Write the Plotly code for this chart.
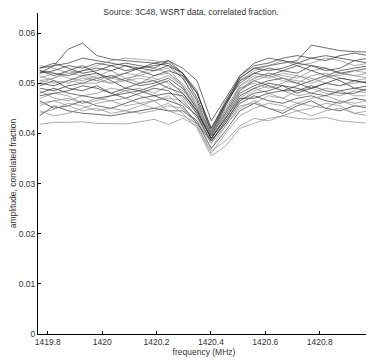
import numpy as np
import plotly.graph_objects as go

# frequency grid (MHz)
freq = list(np.linspace(1419.77, 1420.98, 24))

s1 = [52.0,53.5,56.8,58.0,55.5,54.8,54.5,54.2,54.0,54.5,52.0,48.0,41.0,46.5,51.0,53.0,53.5,54.0,54.5,57.6,57.0,56.5,56.3,56.2]
s2 = [41.8,42.2,42.2,42.3,42.0,42.0,41.9,42.3,42.8,41.8,43.0,41.5,36.5,38.5,41.5,43.0,42.5,43.5,43.0,42.8,43.2,42.5,42.2,42.0]
s3 = [53.0,53.5,54.0,55.0,54.5,54.0,53.5,53.0,53.5,54.0,52.0,47.0,40.5,46.0,51.5,53.5,54.0,55.0,55.5,55.0,54.5,55.5,56.0,55.5]
s4 = [50.5,51.0,52.0,51.5,50.5,50.0,51.0,51.5,52.5,53.0,49.5,44.5,39.0,45.0,49.5,51.0,52.0,51.5,51.0,52.5,53.0,52.0,51.5,52.0]
s5 = [49.0,48.5,49.5,50.0,51.0,51.5,50.5,49.5,50.0,51.0,49.0,45.0,39.5,44.0,48.5,50.5,49.5,48.5,49.5,50.5,51.5,50.5,49.0,49.5]
s6 = [47.0,48.0,47.5,46.0,46.5,47.5,48.5,49.0,48.0,49.5,47.0,43.0,38.5,42.0,47.0,49.0,48.0,47.0,48.5,49.0,48.0,47.5,48.5,48.0]
s7 = [43.5,45.5,44.5,44.0,43.8,43.5,44.0,44.5,45.0,44.5,44.5,42.5,37.0,40.5,44.5,46.0,45.0,44.0,45.5,46.5,45.0,44.5,45.5,45.0]
s8 = [53.5,53.0,52.0,52.5,53.5,54.5,55.0,54.8,54.5,54.0,51.5,45.0,40.0,45.5,50.5,52.5,53.5,54.5,53.5,54.0,55.0,54.5,53.5,54.0]
s9 = [52.5,51.5,52.5,53.5,52.0,51.0,52.0,53.0,52.5,53.5,52.0,48.5,40.0,46.0,50.0,52.0,51.5,52.5,53.5,52.5,51.5,52.5,53.0,53.5]
s10 = [51.0,52.0,51.0,50.5,51.5,52.5,51.0,50.0,51.5,52.0,49.5,43.5,39.5,44.5,49.0,50.5,51.5,50.5,50.0,51.5,52.0,51.0,50.5,51.0]
s11 = [50.0,49.5,50.5,51.5,52.0,50.5,49.0,48.5,49.5,50.5,48.0,44.5,39.0,43.5,48.0,49.5,50.5,51.0,50.0,49.0,50.0,51.0,50.5,50.0]
s12 = [48.5,47.0,46.5,47.5,48.0,49.0,48.5,47.5,46.5,47.0,46.5,43.5,38.0,42.5,46.5,48.5,49.5,48.5,47.5,48.0,49.0,48.5,47.5,47.5]
s13 = [46.5,45.0,45.5,46.5,45.5,45.0,46.0,47.0,47.5,46.5,45.5,42.0,38.5,42.0,46.0,47.5,46.5,46.0,47.0,47.5,46.5,46.0,47.0,46.5]
s14 = [44.0,44.8,46.0,45.5,44.5,45.0,44.5,44.0,44.5,45.5,45.0,41.5,36.0,40.0,43.5,45.0,46.0,45.5,44.5,45.0,46.0,45.5,44.0,44.5]
s15 = [52.0,52.5,53.5,53.0,54.0,53.5,52.5,53.0,54.0,53.5,51.0,46.5,39.5,45.5,51.0,53.0,52.5,53.0,54.0,53.5,52.5,53.0,54.5,54.0]
s16 = [51.5,50.5,50.0,51.0,50.5,51.5,52.0,51.5,51.0,50.0,48.5,45.5,40.5,44.0,48.5,51.0,52.0,51.0,50.5,50.0,51.0,52.0,51.5,51.0]
s17 = [49.5,50.5,49.0,48.5,49.5,48.0,49.0,50.0,50.5,49.0,48.0,44.5,39.0,43.0,47.5,49.0,50.0,49.5,48.0,49.0,50.0,49.5,50.5,50.0]
s18 = [45.5,46.5,47.0,46.0,47.0,46.5,45.5,46.0,46.5,47.5,45.0,42.5,38.0,41.5,45.5,46.0,47.5,47.0,46.0,47.0,47.5,46.5,46.0,46.5]
s19 = [53.0,54.0,53.0,52.0,52.5,53.5,54.0,53.5,53.0,54.5,53.0,50.5,42.5,47.0,51.5,54.0,55.0,54.5,54.0,55.0,55.5,55.0,54.5,55.0]
s20 = [50.0,51.0,52.5,52.0,51.0,50.0,50.5,52.0,53.0,52.0,50.0,46.0,40.0,44.5,49.0,50.0,49.0,50.0,51.5,51.0,50.0,49.5,50.0,50.5]
s21 = [47.5,48.0,48.5,49.5,49.0,48.0,47.0,48.0,49.0,48.5,46.0,43.5,38.5,42.5,46.5,48.0,48.5,49.5,49.0,48.0,47.5,48.5,49.0,48.5]
s22 = [44.5,43.5,44.0,45.0,46.0,46.5,47.0,46.0,45.0,46.0,44.0,41.0,35.5,37.5,41.0,42.0,43.0,43.5,44.5,43.5,44.5,45.0,44.0,43.5]
s23 = [52.5,52.0,51.5,52.5,53.0,52.5,53.5,52.5,51.5,52.5,51.5,48.0,41.0,46.0,50.5,52.0,53.0,52.5,52.0,53.5,53.0,52.0,52.5,53.0]
s24 = [50.5,50.0,50.5,50.0,50.0,51.0,50.5,51.0,50.5,51.5,49.5,45.5,39.5,44.0,49.5,51.5,51.0,52.0,51.5,50.5,51.5,51.5,52.5,52.0]
s25 = [48.0,49.0,48.0,47.5,47.0,47.5,48.0,48.5,47.5,48.0,47.5,44.0,39.0,43.0,47.0,47.0,48.0,48.5,48.5,49.5,48.5,48.0,48.0,49.0]
s26 = [46.0,46.5,45.5,44.5,45.0,44.0,44.5,45.5,46.5,44.5,43.5,42.0,37.0,41.5,45.0,46.5,45.0,44.5,46.0,45.5,45.0,46.5,45.5,45.5]

series = [s1, s2, s3, s4, s5, s6, s7, s8, s9, s10, s11, s12, s13,
          s14, s15, s16, s17, s18, s19, s20, s21, s22, s23, s24, s25, s26]

xtick_vals = [1419.8, 1420.0, 1420.2, 1420.4, 1420.6, 1420.8]
xtick_text = ["1419.8", "1420", "1420.2", "1420.4", "1420.6", "1420.8"]
ytick_vals = [0, 0.01, 0.02, 0.03, 0.04, 0.05, 0.06]
ytick_text = ["0", "0.01", "0.02", "0.03", "0.04", "0.05", "0.06"]

fig = go.Figure()
for i, s in enumerate(series):
    fig.add_trace(go.Scatter(
        x=freq, y=[v / 1000.0 for v in s], mode="lines",
        line=dict(color="#303030" if i % 2 == 0 else "#8a8a8a", width=0.7),
        showlegend=False, hoverinfo="skip"))

font = dict(family="Liberation Sans, Arial, sans-serif", size=8.5, color="#333333")
fig.update_layout(
    width=366, height=352,
    margin=dict(l=23, r=4, t=5, b=26),
    paper_bgcolor="white", plot_bgcolor="white",
    font=font,
    title=dict(text="Source: 3C48, WSRT data, correlated fraction.",
               x=0.5, xanchor="center", y=0.998, yanchor="top",
               font=dict(family="Liberation Sans, Arial, sans-serif", size=8.5, color="#333333")),
    xaxis=dict(range=[1419.764, 1420.985], tickvals=xtick_vals, ticktext=xtick_text,
               ticks="inside", ticklen=3, tickcolor="#000", showgrid=False, zeroline=False,
               showline=True, linecolor="#000", linewidth=1,
               title=dict(text="frequency (MHz)", standoff=1, font=font)),
    yaxis=dict(range=[0, 0.064], tickvals=ytick_vals, ticktext=ytick_text,
               ticks="inside", ticklen=3, tickcolor="#000", showgrid=False, zeroline=False,
               showline=True, linecolor="#000", linewidth=1,
               title=dict(text="amplitude, correlated fraction", standoff=1, font=font)),
)

fig.write_html("out.html")
